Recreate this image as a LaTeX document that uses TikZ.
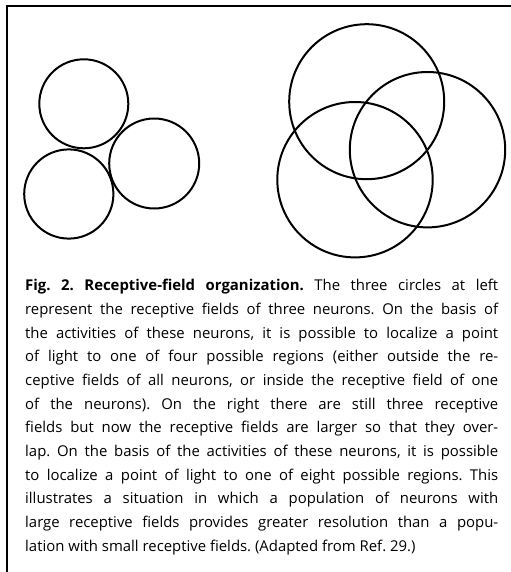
\documentclass[tikz,border=0pt]{standalone}
\usepackage{fontspec}
\setmainfont{Open Sans}
\usepackage{tikz}
\usetikzlibrary{positioning}

\tikzset{
  campo/.style={draw=black,line width=2bp},
  moldura/.style={draw=black,line width=1.5bp},
  legenda/.style={text width=473bp,align=justify,inner sep=0pt,
    font=\fontsize{14.9bp}{23.7bp}\selectfont\frenchspacing}
}

\begin{document}
\begin{tikzpicture}[x=1bp,y=-1bp]
        \useasboundingbox (0,0) rectangle (511,572);
        % Moldura (so topo e esquerda)
        \draw[moldura] (511,6) -- (7,6) -- (7,572);

        % Campos pequenos, sem sobreposicao (cx, cy, raio)
        \foreach \cx/\cy/\r in {83.8/103.8/44.5,
                                68.8/194.0/44.6,
                                154.2/163.5/45.0}{
          \draw[campo] (\cx,\cy) circle[radius=\r];
        }
        % Campos grandes, sobrepostos
        \foreach \cx/\cy/\r in {366.7/101.7/77.5,
                                427.5/149.7/77.7,
                                355.0/179.7/77.7}{
          \draw[campo] (\cx,\cy) circle[radius=\r];
        }

        % Legenda
        \node[legenda,anchor=north west] (caption) at (25,279)
          {\textbf{Fig. 2. Receptive-field organization.} The three circles at left\linebreak
           represent the receptive fields of three neurons. On the basis of\linebreak
           the activities of these neurons, it is possible to localize a point\linebreak
           of light to one of four possible regions (either outside the re-\linebreak
           ceptive fields of all neurons, or inside the receptive field of one\linebreak
           of the neurons). On the right there are still three receptive\linebreak
           fields but now the receptive fields are larger so that they over-\linebreak
           lap. On the basis of the activities of these neurons, it is possible\linebreak
           to localize a point of light to one of eight possible regions. This\linebreak
           illustrates a situation in which a population of neurons with\linebreak
           large receptive fields provides greater resolution than a popu-\linebreak
           lation with small receptive fields. (Adapted from Ref. 29.)};
      \end{tikzpicture}
\end{document}
